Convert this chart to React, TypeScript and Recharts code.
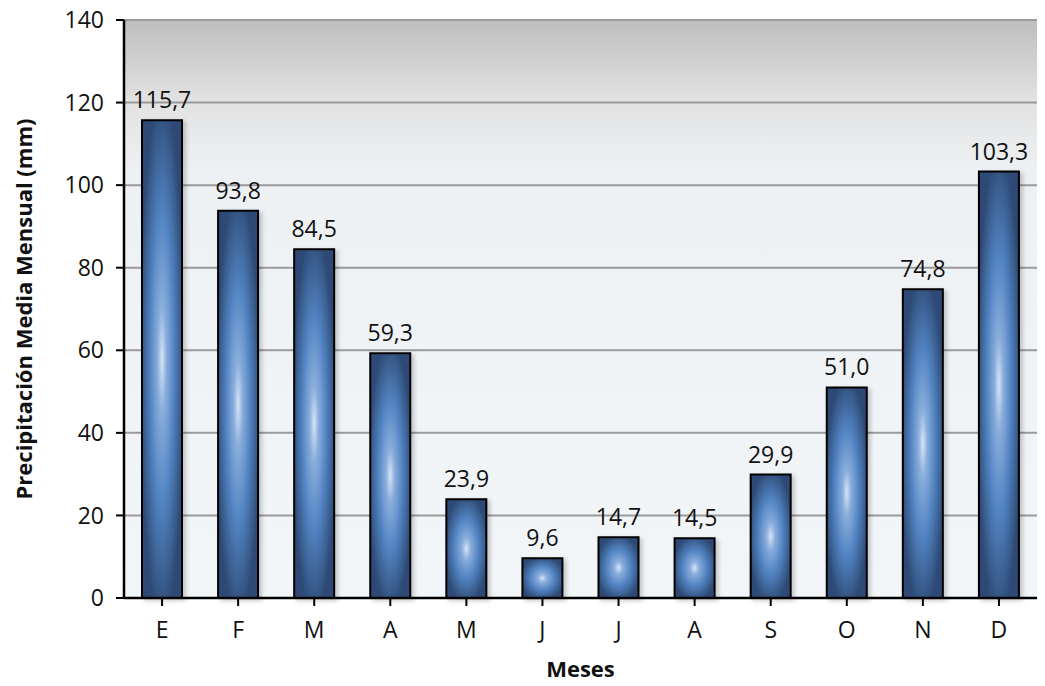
import React from 'react'
import {
  BarChart,
  Bar,
  XAxis,
  YAxis,
  CartesianGrid,
  LabelList,
} from 'recharts'

const months = ['E', 'F', 'M', 'A', 'M', 'J', 'J', 'A', 'S', 'O', 'N', 'D']
const rainfall = [115.7, 93.8, 84.5, 59.3, 23.9, 9.6, 14.7, 14.5, 29.9, 51.0, 74.8, 103.3]
const yTicks = [0, 20, 40, 60, 80, 100, 120, 140]

const data = months.map((m, i) => ({ key: i, month: m, value: rainfall[i] }))

const FONT = '"Open Sans", "Noto Sans", sans-serif'

const fmt = (v: number) => v.toFixed(1).replace('.', ',')

const App: React.FC = () => {
  return (
    <div style={{ position: 'absolute', left: 0, top: 0, width: 1045, height: 686, background: '#fff' }}>
      <BarChart
        width={1045}
        height={686}
        data={data}
        margin={{ top: 20, right: 8, left: 0, bottom: 28 }}
        style={{ fontFamily: FONT }}
      >
        <defs>
          <linearGradient id="plotBg" x1="0" y1="0" x2="0" y2="1">
            <stop offset="0%" stopColor="#bebebe" />
            <stop offset="14%" stopColor="#e2e2e2" />
            <stop offset="26%" stopColor="#eef1f4" />
            <stop offset="100%" stopColor="#f3f6f9" />
          </linearGradient>
          <radialGradient id="barFill" cx="50%" cy="50%" r="55%">
            <stop offset="0%" stopColor="#d6e4f5" />
            <stop offset="20%" stopColor="#8aaedc" />
            <stop offset="55%" stopColor="#5283c2" />
            <stop offset="100%" stopColor="#2d4a74" />
          </radialGradient>
          <filter id="barShadow" x="-20%" y="-20%" width="150%" height="150%">
            <feDropShadow dx="3" dy="2" stdDeviation="2" floodColor="#000" floodOpacity="0.2" />
          </filter>
        </defs>
        <CartesianGrid
          vertical={false}
          stroke="#9a9a9a"
          strokeWidth={2}
          fill="url(#plotBg)"
          fillOpacity={1}
        />
        <XAxis
          dataKey="key"
          tickFormatter={(i: number) => months[i]}
          interval={0}
          axisLine={{ stroke: '#000', strokeWidth: 2.5 }}
          tickLine={{ stroke: '#000', strokeWidth: 2 }}
          tickSize={8}
          tick={{ fill: '#111', fontSize: 23, dy: 14 }}
          height={60}
          label={{
            value: 'Meses',
            position: 'insideBottom',
            offset: -19,
            style: { fill: '#111', fontSize: 22, fontWeight: 700 },
          }}
        />
        <XAxis
          xAxisId="top"
          dataKey="key"
          orientation="top"
          tick={false}
          tickLine={false}
          height={0}
          axisLine={{ stroke: '#000', strokeWidth: 2 }}
        />
        <YAxis
          domain={[0, 140]}
          ticks={yTicks}
          interval={0}
          width={124}
          axisLine={{ stroke: '#000', strokeWidth: 2.5 }}
          tickLine={{ stroke: '#000', strokeWidth: 2 }}
          tickSize={8}
          tick={{ fill: '#111', fontSize: 23, dx: -10 }}
          label={{
            value: 'Precipitación Media Mensual (mm)',
            angle: -90,
            position: 'insideLeft',
            offset: 24,
            style: { textAnchor: 'middle', fill: '#111', fontSize: 22, fontWeight: 700 },
          }}
        />
        <YAxis
          yAxisId="right"
          orientation="right"
          domain={[0, 140]}
          tick={false}
          tickLine={false}
          width={0}
          axisLine={{ stroke: '#000', strokeWidth: 2 }}
        />
        <Bar
          dataKey="value"
          fill="url(#barFill)"
          stroke="#000"
          strokeWidth={2}
          barSize={40}
          filter="url(#barShadow)"
          isAnimationActive={false}
        >
          <LabelList
            dataKey="value"
            position="top"
            offset={12}
            formatter={(v: number) => fmt(v)}
            style={{ fill: '#111', fontSize: 23, fontFamily: FONT }}
          />
        </Bar>
      </BarChart>
    </div>
  )
}

export default App
